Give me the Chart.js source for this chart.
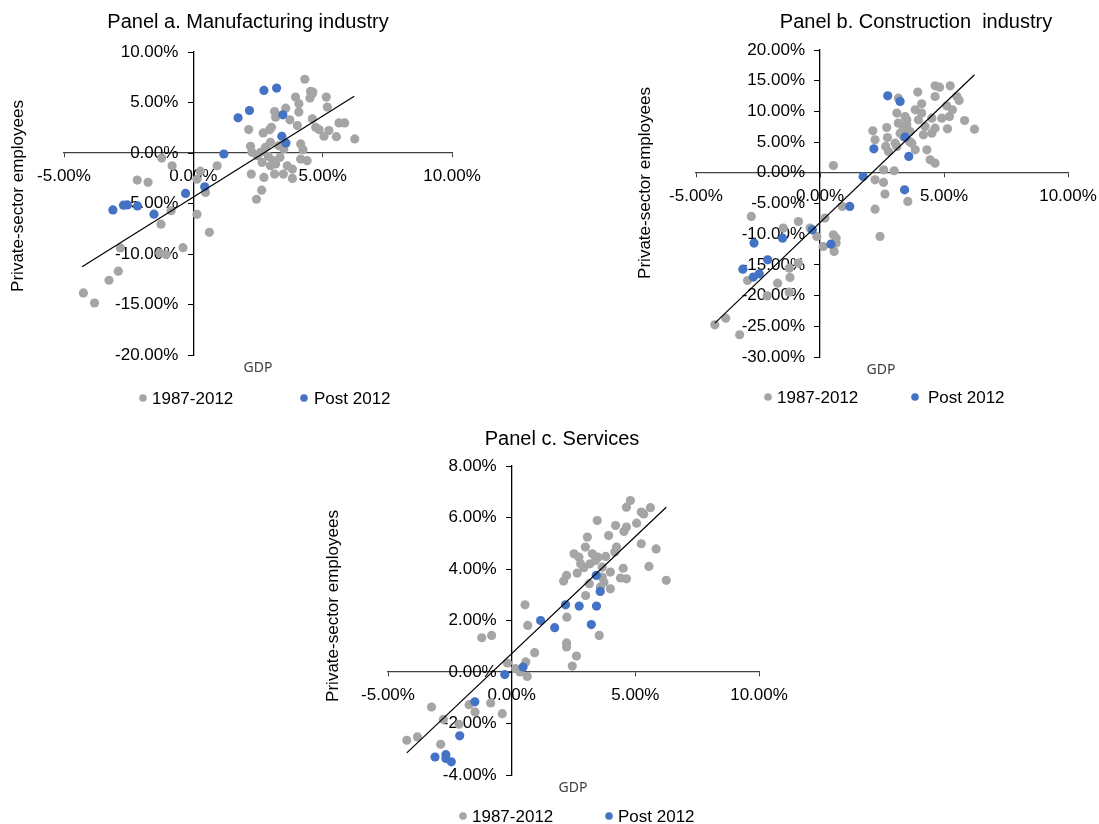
<!DOCTYPE html>
<html><head><meta charset="utf-8">
<script src="https://cdn.jsdelivr.net/npm/chart.js@4.4.0/dist/chart.umd.min.js"></script>
<style>
html,body{margin:0;padding:0;background:#fff;width:1099px;height:824px;overflow:hidden;position:relative}
canvas{position:absolute}
</style></head><body>
<canvas id="ca" width="540" height="415" style="left:0;top:0"></canvas>
<canvas id="cb" width="560" height="415" style="left:560px;top:0"></canvas>
<canvas id="cc" width="500" height="409" style="left:300px;top:415px"></canvas>
<script>
// ---------- Panel a: Manufacturing ----------
const mfgPreGdp = [-4.25,-3.82,-3.26,-2.9,-2.82,-2.17,-1.75,-1.25,-1.22,-1.3,-1.05,-0.86,-0.82,-0.4,0.14,0.47,0.62,0.92,0.14,0.27,
  4.31,4.53,4.6,4.51,3.95,5.14,5.18,3.14,3.57,4.08,4.08,2.14,2.7,3.02,3.18,3.73,4.02,4.6,4.73,4.86,5.24,5.05,5.53,5.63,5.85,6.24,
  2.21,2.27,2.6,2.98,2.9,3.09,3.35,3.5,4.15,4.24,4.15,4.4,3.63,3.83,3.48,3.14,2.73,2.24,3.83,2.64,2.44,3.18,2.98,2.66,2.47,3.31,2.79,4.62,2.95];
const mfgPreEmp = [-13.85,-14.85,-12.6,-11.7,-9.4,-2.68,-2.9,-7.05,-0.5,-9.9,-10.05,-5.72,-1.26,-9.37,-6.07,-3.91,-7.85,-1.26,-2.6,-1.8,
  7.3,6.1,5.87,5.44,5.54,5.54,4.55,4.11,4.44,4.88,4.05,2.32,1.99,2.55,3.55,3.28,2.72,3.38,2.55,2.32,2.22,1.66,1.62,2.98,2.98,1.39,
  0.67,0.07,0.07,1.06,-0.33,-0.76,-0.43,0.4,0.9,0.33,-0.6,-0.76,-1.26,-1.59,-2.09,-2.09,-2.42,-2.09,-2.52,-3.68,-4.58,-1.09,-1.26,-0.93,-0.27,0.73,0.57,6.03,2.3];
const mfgPostGdp = [-3.11,-2.7,-2.55,-2.16,-1.52,-0.3,0.44,1.18,1.73,2.17,2.73,3.22,3.46,3.42,3.58];
const mfgPostEmp = [-5.64,-5.17,-5.14,-5.24,-6.06,-4.0,-3.34,-0.1,3.48,4.21,6.2,6.43,3.78,1.66,0.99];
const mfgTrendGdp = [-4.3, 6.22];
const mfgTrendEmp = [-11.26, 5.63];

// ---------- Panel b: Construction ----------
const conPreGdp = [-4.24,-3.8,-3.24,-2.92,-2.77,-2.13,-1.71,-1.24,-1.21,-1.24,-0.87,-1.48,-0.87,-0.4,-0.13,0.2,0.13,0.54,0.65,0.65,0.57,0.54,0.9,
  2.22,2.56,2.62,2.22,2.42,2.57,2.99,3.54,2.13,2.22,2.69,2.72,2.65,2.76,3.03,3.1,3.16,3.16,3.23,3.43,3.5,3.61,3.7,3.84,3.97,3.94,3.84,4.1,4.1,
  4.24,4.31,4.17,4.44,4.64,4.51,4.64,4.51,4.64,4.64,4.82,5.25,5.11,5.22,5.34,5.14,5.52,5.61,5.83,6.23,4.91,3.36,3.63,3.36,3.1,3.5];
const conPreEmp = [-24.76,-23.67,-26.38,-17.54,-7.11,-20.03,-17.97,-19.44,-17.05,-15.53,-14.71,-9.01,-7.93,-9.01,-10.37,-7.38,-12.0,-10.1,-10.64,-11.45,-12.81,1.19,-5.48,
  -1.14,-1.57,-3.47,-5.92,-10.37,0.49,0.33,-4.67,6.84,5.37,7.38,5.75,4.29,3.47,4.83,9.72,12.16,8.09,6.46,9.17,7.82,5.1,4.83,3.75,8.63,13.14,10.26,11.24,9.72,
  7.55,3.75,6.19,2.12,1.57,6.46,7.27,8.9,12.43,14.17,13.95,14.17,10.91,9.17,10.26,7.17,12.43,11.78,8.52,7.11,8.9,7.0,6.73,5.92,4.29,8.63];
const conPostGdp = [2.73,3.23,3.43,3.58,2.17,3.41,1.74,1.2,-0.31,0.44,-1.51,-2.66,-2.11,-3.11,-2.69,-2.45];
const conPostEmp = [12.54,11.62,5.81,2.66,3.91,-2.77,-0.6,-5.48,-9.28,-11.62,-10.64,-11.45,-14.17,-15.69,-16.99,-16.45];
const conTrendGdp = [-4.24, 6.23];
const conTrendEmp = [-24.48, 15.96];

// ---------- Panel c: Services ----------
const serPreGdp = [-4.24,-3.81,-3.24,-2.87,-2.76,-2.13,-1.72,-1.48,-0.85,-0.38,-1.21,-0.81,-0.17,0.16,0.57,0.63,0.34,0.54,0.65,0.93,
  2.23,2.22,2.22,2.62,2.45,3.54,2.1,2.22,2.52,2.72,2.65,2.92,3.06,3.17,2.99,3.14,3.46,3.49,3.8,3.92,3.99,3.99,3.73,4.2,4.17,4.24,4.51,4.64,
  4.54,4.64,4.64,4.8,5.05,5.24,5.24,5.34,5.55,5.61,5.84,6.25,4.4,3.66,3.39,3.66,2.79,3.26,2.98,3.59];
const serPreEmp = [-2.65,-2.52,-1.36,-2.81,-1.84,-2.03,-1.27,-1.55,-1.2,-1.62,1.33,1.42,0.35,0.13,0.39,-0.17,0.0,2.61,1.81,0.75,
  2.13,1.13,0.97,0.62,0.23,1.42,3.53,3.75,4.59,4.46,3.84,4.05,5.24,4.2,2.97,3.43,5.88,4.46,4.49,5.3,3.88,3.23,3.49,5.69,4.66,4.85,4.03,3.62,
  5.46,5.63,6.4,6.66,5.78,4.98,6.21,6.14,4.1,6.38,4.78,3.56,3.65,3.69,4.33,4.07,4.2,4.59,4.85,3.3];
const serPostGdp = [-3.1,-2.66,-2.66,-2.44,-2.1,-1.49,-0.28,0.46,1.17,1.74,2.18,2.73,3.43,3.22,3.42,3.58];
const serPostEmp = [-3.3,-3.21,-3.36,-3.49,-2.48,-1.16,-0.1,0.19,2.0,1.72,2.61,2.56,2.56,1.84,3.75,3.13];
const serTrendGdp = [-4.24, 6.25];
const serTrendEmp = [-3.14, 6.4];

const seriesLabels = ['1987-2012', 'Post 2012'];
const GREY = '#A5A5A5', BLUE = '#4472C4';
const FONT = '"Liberation Sans", Arial, sans-serif';

const zip = (xs, ys) => xs.map((x, i) => ({x, y: ys[i]}));
const pct = v => v.toFixed(2) + '%';

const panelText = {
  id: 'panelText',
  afterDraw(chart, args, o) {
    const ctx = chart.ctx;
    ctx.save();
    ctx.textBaseline = 'middle';
    ctx.textAlign = 'center';
    ctx.fillStyle = '#000';
    ctx.font = '20px ' + FONT;
    ctx.fillText(o.title, o.titlePos[0], o.titlePos[1]);
    ctx.save();
    ctx.translate(o.yTitlePos[0], o.yTitlePos[1]);
    ctx.rotate(-Math.PI / 2);
    ctx.font = '17px ' + FONT;
    ctx.fillText('Private-sector employees', 0, 0);
    ctx.restore();
    ctx.font = '14px "Noto Sans", sans-serif';
    ctx.fillStyle = '#404040';
    ctx.fillText('GDP', o.xTitlePos[0], o.xTitlePos[1]);
    ctx.font = '17px ' + FONT;
    ctx.textAlign = 'left';
    o.legend.forEach((it, i) => {
      const ds = chart.data.datasets[i];
      ctx.fillStyle = ds.backgroundColor;
      ctx.beginPath();
      ctx.arc(it[0], o.legendY, 3.8, 0, Math.PI * 2);
      ctx.fill();
      ctx.fillStyle = '#000';
      ctx.fillText(ds.label, it[1], o.legendY + 1);
    });
    ctx.restore();
  }
};

function makePanel(id, pre, post, trend, xr, yr, ystep, labelGap, pad, text) {
  const tickFont = {family: FONT, size: 17};
  new Chart(document.getElementById(id), {
    type: 'scatter',
    data: {
      datasets: [
        {label: seriesLabels[0], data: zip(pre[0], pre[1]), backgroundColor: GREY, borderWidth: 0, pointRadius: 4.6, pointHoverRadius: 4.6, order: 2},
        {label: seriesLabels[1], data: zip(post[0], post[1]), backgroundColor: BLUE, borderWidth: 0, pointRadius: 4.6, pointHoverRadius: 4.6, order: 1},
        {type: 'line', label: 'Linear trend', data: zip(trend[0], trend[1]), borderColor: '#000', borderWidth: 1.2, pointRadius: 0, fill: false, order: 0}
      ]
    },
    options: {
      responsive: false,
      animation: false,
      devicePixelRatio: 1,
      layout: {padding: pad},
      plugins: {legend: {display: false}, tooltip: {enabled: false}, title: {display: false}, panelText: text},
      scales: {
        x: {
          type: 'linear', position: {y: 0}, min: xr[0], max: xr[1],
          ticks: {stepSize: 5, callback: pct, color: '#000', font: tickFont, padding: 9, maxRotation: 0, autoSkip: false},
          grid: {drawOnChartArea: false, drawTicks: true, tickLength: 4, color: '#404040'},
          border: {display: true, color: '#404040', width: 1.3}
        },
        y: {
          type: 'linear', position: {x: 0}, min: yr[0], max: yr[1],
          ticks: {stepSize: ystep, display: false},
          grid: {drawOnChartArea: false, drawTicks: true, tickLength: 5, color: '#000'},
          border: {display: true, color: '#000', width: 1.3}
        },
        // tick labels of the vertical axis, set 15px to the left of the axis line
        yLabels: {
          axis: 'y', type: 'linear', position: {x: -labelGap}, min: yr[0], max: yr[1],
          ticks: {stepSize: ystep, callback: pct, color: '#000', font: tickFont, autoSkip: false},
          grid: {display: false, drawTicks: false},
          border: {display: false}
        }
      }
    },
    plugins: [panelText]
  });
}

makePanel('ca', [mfgPreGdp, mfgPreEmp], [mfgPostGdp, mfgPostEmp], [mfgTrendGdp, mfgTrendEmp],
  [-5, 10], [-20, 10], 5, 0.58, {left: 64, right: 88, top: 52, bottom: 60},
  {title: 'Panel a. Manufacturing industry', titlePos: [248, 22], yTitlePos: [18, 196], xTitlePos: [258, 368],
   legendY: 398, legend: [[143, 152], [304, 314]]});

makePanel('cb', [conPreGdp, conPreEmp], [conPostGdp, conPostEmp], [conTrendGdp, conTrendEmp],
  [-5, 10], [-30, 20], 5, 0.605, {left: 136, right: 52, top: 50, bottom: 58},
  {title: 'Panel b. Construction  industry', titlePos: [356, 22], yTitlePos: [85, 183], xTitlePos: [321, 370],
   legendY: 397, legend: [[208, 217], [355, 368]]});

makePanel('cc', [serPreGdp, serPreEmp], [serPostGdp, serPostEmp], [serTrendGdp, serTrendEmp],
  [-5, 10], [-4, 8], 2, 0.605, {left: 88, right: 41, top: 51, bottom: 49},
  {title: 'Panel c. Services', titlePos: [262, 24], yTitlePos: [33, 191], xTitlePos: [273, 373],
   legendY: 401, legend: [[163, 172], [309, 318]]});
</script>
</body></html>
